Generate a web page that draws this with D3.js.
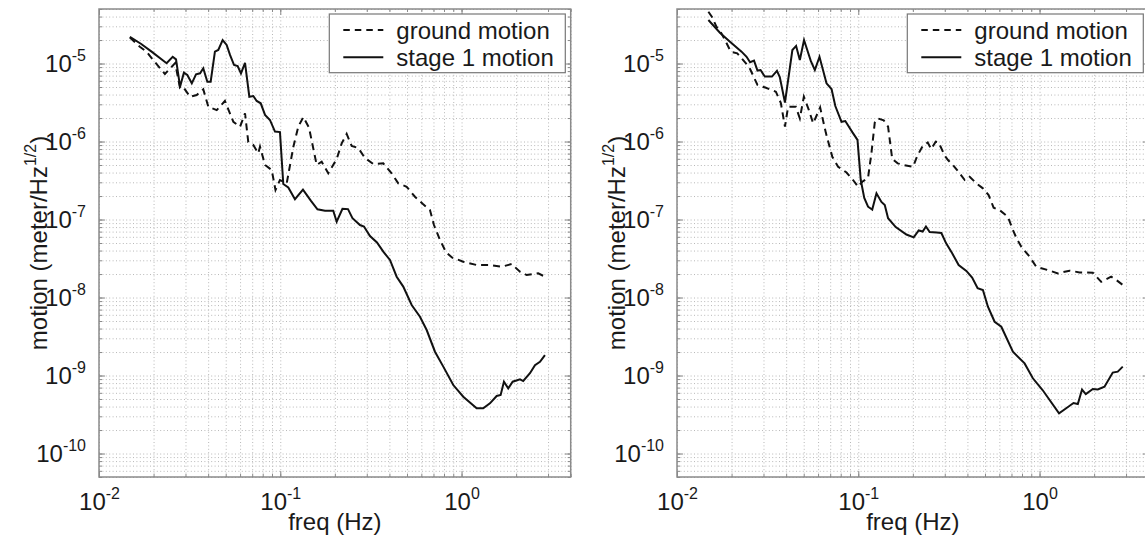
<!DOCTYPE html>
<html><head><meta charset="utf-8">
<script src="https://cdn.jsdelivr.net/npm/d3@7"></script>
<style>
body{margin:0;background:#fff;}
svg{display:block;font-family:"Liberation Sans",Arial,Helvetica,sans-serif;}
</style></head><body>
<svg id="chart" width="1145" height="538"></svg>
<script>
// ---------- data ----------
const legendLabels = ["ground motion", "stage 1 motion"];
const xMajorTicks = [0.01, 0.1, 1];
const xTickExponents = ["-2", "-1", "0"];
const yMajorTicks = [1e-5, 1e-6, 1e-7, 1e-8, 1e-9, 1e-10];
const yTickExponents = ["-5", "-6", "-7", "-8", "-9", "-10"];
const xLabel = "freq (Hz)";
const yLabelParts = ["motion (meter/Hz", "1/2", ")"];

// left panel: stage 1 motion
const leftStageFreq = [0.0148,0.0171,0.0195,0.0236,0.0255,0.0266,0.0280,0.0294,0.0307,0.0325,0.0343,0.0361,0.0376,0.0396,0.0413,0.0436,0.0455,0.0481,0.0506,0.0528,0.0556,0.0582,0.0607,0.0639,0.0675,0.0710,0.0741,0.0780,0.0824,0.0877,0.0935,0.0996,0.1039,0.1107,0.1205,0.1334,0.1477,0.1604,0.1765,0.1960,0.2047,0.2203,0.2363,0.2502,0.2752,0.2895,0.3125,0.3415,0.3700,0.4028,0.4386,0.4768,0.5307,0.5897,0.6421,0.7135,0.7929,0.9001,1.022,1.211,1.317,1.434,1.562,1.643,1.713,1.809,1.914,2.100,2.189,2.384,2.541,2.707,2.884];
const leftStageVal = [2.19e-5,1.78e-5,1.42e-5,1.01e-5,1.22e-5,1.13e-5,5.04e-6,7.62e-6,7.12e-6,5.57e-6,7.27e-6,7.49e-6,8.68e-6,5.84e-6,5.84e-6,1.42e-5,1.49e-5,2.00e-5,1.73e-5,1.29e-5,9.57e-6,9.29e-6,7.49e-6,1.02e-5,3.75e-6,3.83e-6,3.31e-6,3.09e-6,2.19e-6,1.89e-6,1.34e-6,1.32e-6,2.85e-7,2.57e-7,1.82e-7,2.41e-7,1.73e-7,1.35e-7,1.30e-7,1.30e-7,9.37e-8,1.37e-7,1.36e-7,1.04e-7,8.50e-8,8.13e-8,6.14e-8,5.07e-8,3.87e-8,3.03e-8,1.85e-8,1.38e-8,8.01e-9,5.67e-9,3.83e-9,2.02e-9,1.30e-9,7.55e-10,5.35e-10,3.80e-10,3.80e-10,4.40e-10,5.46e-10,5.62e-10,8.33e-10,6.85e-10,8.33e-10,8.94e-10,8.50e-10,1.07e-9,1.36e-9,1.50e-9,1.83e-9];
// left panel: ground motion
const leftGroundFreq = [0.0148,0.0168,0.0183,0.0199,0.0231,0.0252,0.0263,0.0280,0.0292,0.0318,0.0346,0.0376,0.0401,0.0446,0.0495,0.0551,0.0600,0.0639,0.0666,0.0710,0.0756,0.0773,0.0824,0.0897,0.0941,0.0996,0.1085,0.1180,0.1257,0.1340,0.1440,0.1588,0.1692,0.1840,0.2047,0.2182,0.2324,0.2477,0.2693,0.2933,0.3258,0.3700,0.4115,0.4477,0.4980,0.5531,0.6124,0.6695,0.7045,0.7604,0.8204,0.8851,1.022,1.211,1.434,1.664,1.889,2.100,2.287,2.649,2.884];
const leftGroundVal = [2.15e-5,1.64e-5,1.42e-5,1.11e-5,7.34e-6,9.10e-6,1.01e-5,4.85e-6,4.95e-6,3.75e-6,3.95e-6,4.67e-6,2.79e-6,2.53e-6,3.31e-6,1.79e-6,1.55e-6,2.30e-6,9.85e-7,9.02e-7,7.06e-7,8.58e-7,5.00e-7,4.31e-7,2.39e-7,3.21e-7,2.91e-7,8.50e-7,1.55e-6,2.06e-6,1.51e-6,5.00e-7,5.51e-7,3.91e-7,5.97e-7,9.48e-7,1.25e-6,8.76e-7,8.25e-7,6.14e-7,5.15e-7,5.25e-7,3.91e-7,2.91e-7,2.63e-7,1.96e-7,1.58e-7,1.32e-7,8.50e-8,5.46e-8,3.83e-8,3.26e-8,2.88e-8,2.61e-8,2.61e-8,2.48e-8,2.69e-8,2.14e-8,1.94e-8,2.04e-8,1.85e-8];

// right panel: stage 1 motion
const rightStageFreq = [0.0149,0.0173,0.0196,0.0227,0.0242,0.0253,0.0266,0.0278,0.0289,0.0305,0.0334,0.0356,0.0369,0.0394,0.0433,0.0454,0.0476,0.0502,0.0547,0.0576,0.0611,0.0668,0.0712,0.0747,0.0808,0.0848,0.0927,0.0990,0.1032,0.1079,0.1132,0.1194,0.1260,0.1342,0.1400,0.1460,0.1609,0.1843,0.2022,0.2154,0.2266,0.2362,0.2477,0.2707,0.2873,0.3053,0.3296,0.3578,0.3946,0.4247,0.4553,0.4870,0.5190,0.5651,0.6152,0.7128,0.8268,0.9186,1.039,1.281,1.403,1.539,1.626,1.715,1.799,1.967,2.096,2.281,2.534,2.700,2.877];
const rightStageVal = [3.61e-5,2.46e-5,1.90e-5,1.42e-5,1.22e-5,1.04e-5,1.09e-5,8.13e-6,8.25e-6,6.81e-6,6.81e-6,8.08e-6,6.71e-6,3.16e-6,1.49e-5,1.68e-5,1.11e-5,2.00e-5,1.08e-5,8.25e-6,1.22e-5,5.57e-6,4.71e-6,2.85e-6,1.79e-6,1.83e-6,1.32e-6,1.05e-6,3.21e-7,1.89e-7,1.46e-7,1.34e-7,2.17e-7,1.68e-7,1.53e-7,1.04e-7,8.01e-8,6.42e-8,5.91e-8,7.23e-8,7.02e-8,8.13e-8,6.91e-8,6.81e-8,6.71e-8,4.95e-8,3.69e-8,2.61e-8,2.19e-8,1.80e-8,1.32e-8,1.25e-8,7.62e-9,4.89e-9,4.22e-9,2.02e-9,1.43e-9,9.21e-10,6.52e-10,3.28e-10,3.80e-10,4.44e-10,4.31e-10,6.61e-10,5.79e-10,6.71e-10,6.61e-10,7.18e-10,1.09e-9,1.12e-9,1.30e-9];
// right panel: ground motion
const rightGroundFreq = [0.0149,0.0156,0.0165,0.0173,0.0184,0.0198,0.0215,0.0242,0.0253,0.0278,0.0307,0.0351,0.0374,0.0394,0.0410,0.0452,0.0476,0.0501,0.0534,0.0564,0.0616,0.0662,0.0719,0.0774,0.0861,0.0936,0.0997,0.1052,0.1132,0.1182,0.1233,0.1281,0.1382,0.1460,0.1539,0.1650,0.1781,0.2005,0.2114,0.2266,0.2415,0.2525,0.2673,0.2776,0.2997,0.3125,0.3330,0.3625,0.3864,0.4115,0.4479,0.4870,0.5236,0.5580,0.6098,0.6688,0.7128,0.7468,0.7929,0.8810,0.9590,1.111,1.261,1.463,1.662,1.967,2.188,2.483,2.647,2.877];
const rightGroundVal = [4.61e-5,3.95e-5,2.96e-5,2.61e-5,2.00e-5,1.42e-5,1.35e-5,9.85e-6,8.50e-6,5.30e-6,4.92e-6,4.35e-6,3.12e-6,1.55e-6,2.79e-6,2.79e-6,1.98e-6,3.75e-6,2.53e-6,1.71e-6,2.73e-6,1.30e-6,6.38e-7,4.75e-7,4.01e-7,3.21e-7,2.63e-7,3.05e-7,3.42e-7,7.12e-7,1.75e-6,1.98e-6,1.87e-6,1.55e-6,5.97e-7,5.25e-7,5.00e-7,4.75e-7,6.52e-7,8.76e-7,9.71e-7,8.01e-7,9.94e-7,9.71e-7,6.61e-7,5.79e-7,5.00e-7,3.91e-7,3.21e-7,3.54e-7,2.91e-7,2.51e-7,2.06e-7,1.42e-7,1.29e-7,1.08e-7,7.34e-8,5.74e-8,4.48e-8,3.34e-8,2.48e-8,2.25e-8,2.04e-8,2.21e-8,2.10e-8,2.08e-8,1.59e-8,1.85e-8,1.68e-8,1.45e-8];

// ---------- drawing ----------
const svg = d3.select("#chart");
const W = 471.7, H = 468, TOP = 9;
const xDomain = [0.01, 4], yDomain = [5e-11, 5e-5];

function zip(a, b) { return a.map((v, i) => [v, b[i]]); }

function panel(idx, left, sF, sV, gF, gV, yLabelX) {
  const g = svg.append("g").attr("transform", `translate(${left},${TOP})`);
  const x = d3.scaleLog().domain(xDomain).range([0, W]);
  const y = d3.scaleLog().domain(yDomain).range([H, 0]);

  const xMinor = [];
  for (const d of [0.01, 0.1, 1]) for (let m = 1; m <= 9; m++) {
    const v = +(d * m).toPrecision(3); if (v <= 4.0001) xMinor.push(v);
  }
  const yMinor = [];
  for (let e = -11; e <= -5; e++) for (let m = 1; m <= 9; m++) {
    const v = +(m * Math.pow(10, e)).toPrecision(3);
    if (v >= 5e-11 * 0.999 && v <= 5e-5 * 1.001) yMinor.push(v);
  }

  // dotted grid
  const gx = g.append("g").attr("transform", `translate(0,${H})`)
    .call(d3.axisBottom(x).tickValues(xMinor).tickSize(-H).tickFormat(""));
  const gy = g.append("g")
    .call(d3.axisLeft(y).tickValues(yMinor).tickSize(-W).tickFormat(""));
  [gx, gy].forEach(s => {
    s.select(".domain").remove();
    s.selectAll("line").attr("stroke", "#b8b8b8").attr("stroke-width", 1).attr("stroke-dasharray", "1,2.4");
  });

  // tick marks on all four sides (inward)
  [[d3.axisBottom, `translate(0,${H})`, x, xMinor, xMajorTicks],
   [d3.axisTop, `translate(0,0)`, x, xMinor, xMajorTicks],
   [d3.axisLeft, `translate(0,0)`, y, yMinor, yMajorTicks],
   [d3.axisRight, `translate(${W},0)`, y, yMinor, yMajorTicks]].forEach(([ax, tr, sc, minor, major]) => {
    const a1 = g.append("g").attr("transform", tr).call(ax(sc).tickValues(minor).tickSize(-3).tickFormat(""));
    const a2 = g.append("g").attr("transform", tr).call(ax(sc).tickValues(major).tickSize(-6).tickFormat(""));
    [a1, a2].forEach(s => { s.select(".domain").remove(); s.selectAll("line").attr("stroke", "#8a8a8a").attr("stroke-width", 1); });
  });

  // box
  g.append("rect").attr("x", 0).attr("y", 0).attr("width", W).attr("height", H)
    .attr("fill", "none").attr("stroke", "#8a8a8a").attr("stroke-width", 1.5);

  // tick labels
  const xl = g.append("g").attr("transform", `translate(0,${H})`)
    .call(d3.axisBottom(x).tickValues(xMajorTicks).tickSize(0).tickFormat(() => "10"));
  xl.select(".domain").remove();
  xl.attr("font-size", null).attr("font-family", null);
  xl.selectAll("text").attr("y", 33).attr("dy", null).attr("font-size", 24).attr("fill", "#1a1a1a")
    .each(function (d, i) {
      d3.select(this).append("tspan").attr("dy", -11).attr("font-size", 16).text(xTickExponents[i]);
    });

  const yl = g.append("g")
    .call(d3.axisLeft(y).tickValues(yMajorTicks).tickSize(0).tickFormat(() => "10"));
  yl.select(".domain").remove();
  yl.attr("font-size", null).attr("font-family", null);
  yl.selectAll("text").attr("x", -13).attr("y", 8).attr("dy", null).attr("font-size", 24).attr("fill", "#1a1a1a")
    .each(function (d, i) {
      d3.select(this).append("tspan").attr("dy", -11).attr("font-size", 16).text(yTickExponents[i]);
    });

  // axis labels
  g.append("text").attr("x", W / 2).attr("y", H + 53).attr("text-anchor", "middle")
    .attr("font-size", 24).attr("fill", "#1a1a1a").text(xLabel);
  const yt = g.append("text").attr("transform", `translate(${yLabelX - left},${H / 2}) rotate(-90)`)
    .attr("text-anchor", "middle").attr("font-size", 24).attr("fill", "#1a1a1a");
  yt.append("tspan").text(yLabelParts[0]);
  yt.append("tspan").attr("dy", -11).attr("font-size", 16).text(yLabelParts[1]);
  yt.append("tspan").attr("dy", 11).text(yLabelParts[2]);

  // curves
  const clipId = "clip" + idx;
  svg.append("clipPath").attr("id", clipId).append("rect").attr("width", W).attr("height", H);
  const line = d3.line().x(d => x(d[0])).y(d => y(d[1]));
  const cg = g.append("g").attr("clip-path", `url(#${clipId})`);
  cg.append("path").datum(zip(gF, gV)).attr("d", line).attr("fill", "none")
    .attr("stroke", "#111").attr("stroke-width", 2).attr("stroke-dasharray", "7,5");
  cg.append("path").datum(zip(sF, sV)).attr("d", line).attr("fill", "none")
    .attr("stroke", "#111").attr("stroke-width", 2);

  // legend
  const lw = 236, lh = 58.7;
  const lg = g.append("g").attr("transform", `translate(${W - 5.4 - lw},5)`);
  lg.append("rect").attr("width", lw).attr("height", lh).attr("fill", "#fff")
    .attr("stroke", "#777").attr("stroke-width", 1.2);
  const rows = [16, 43.3];
  const dashes = ["6.5,5", null];
  rows.forEach((ry, i) => {
    lg.append("line").attr("x1", 14).attr("x2", 54).attr("y1", ry).attr("y2", ry)
      .attr("stroke", "#111").attr("stroke-width", 2).attr("stroke-dasharray", dashes[i]);
    lg.append("text").attr("x", 67).attr("y", ry + 8.5).attr("font-size", 24).attr("fill", "#1a1a1a").text(legendLabels[i]);
  });
}

panel(0, 99, leftStageFreq, leftStageVal, leftGroundFreq, leftGroundVal, 47);
panel(1, 677, rightStageFreq, rightStageVal, rightGroundFreq, rightGroundVal, 625);
</script>
</body></html>
